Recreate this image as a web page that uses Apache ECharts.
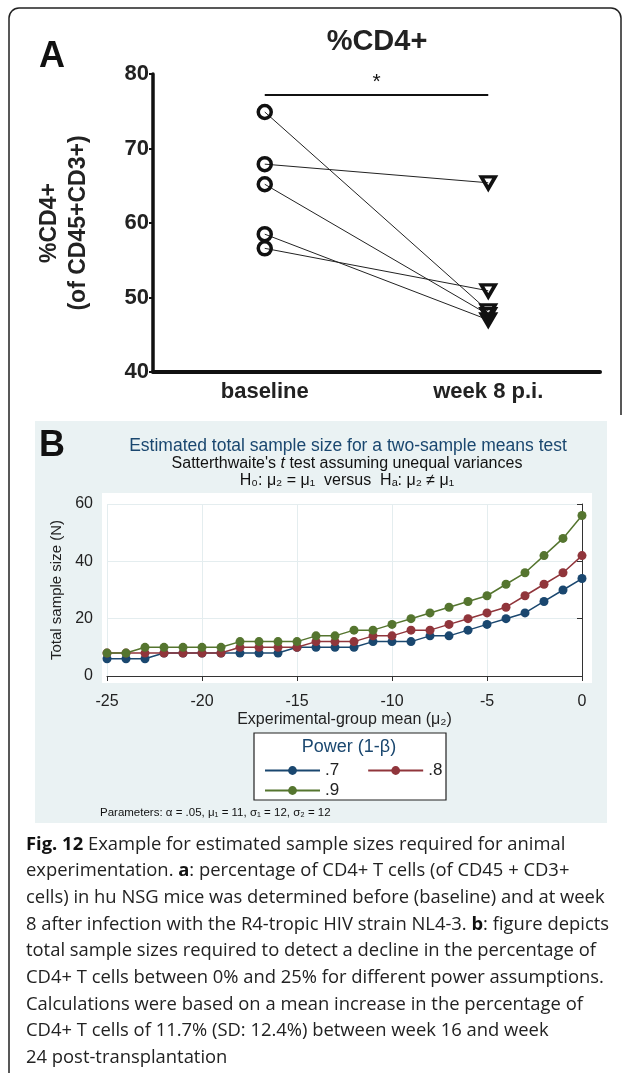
<!DOCTYPE html>
<html>
<head>
<meta charset="utf-8">
<script src="https://cdn.jsdelivr.net/npm/echarts@6/dist/echarts.min.js"></script>
<style>
html, body { margin: 0; padding: 0; background: #fff; }
#main { width: 627px; height: 1073px; }
</style>
</head>
<body>
<div id="main"></div>
<script>
// panel A: %CD4+ per mouse, baseline vs week 8
var groupsA = ['baseline', 'week 8 p.i.'];
var cd4Baseline = [74.9, 67.9, 65.2, 58.5, 56.6];
var cd4Week8 = [48.2, 65.4, 47.7, 47.0, 50.9];
var sigLevel = 77.2;

// panel B: total sample size vs experimental-group mean
var meanX = [-25, -24, -23, -22, -21, -20, -19, -18, -17, -16, -15, -14, -13, -12, -11, -10, -9, -8, -7, -6, -5, -4, -3, -2, -1, 0];
var n70 = [6, 6, 6, 8, 8, 8, 8, 8, 8, 8, 10, 10, 10, 10, 12, 12, 12, 14, 14, 16, 18, 20, 22, 26, 30, 34];
var n80 = [8, 8, 8, 8, 8, 8, 8, 10, 10, 10, 10, 12, 12, 12, 14, 14, 16, 16, 18, 20, 22, 24, 28, 32, 36, 42];
var n90 = [8, 8, 10, 10, 10, 10, 10, 12, 12, 12, 12, 14, 14, 16, 16, 18, 20, 22, 24, 26, 28, 32, 36, 42, 48, 56];
var powerLabels = ['.7', '.8', '.9'];
var powerColors = ['#1a476f', '#90353b', '#55752f'];

var chart = echarts.init(document.getElementById('main'));
var arial = '"Liberation Sans", Arial, sans-serif';

var seriesList = [];
for (var i = 0; i < cd4Baseline.length; i++) {
    seriesList.push({
        type: 'line',
        xAxisIndex: 0,
        yAxisIndex: 0,
        silent: true,
        z: 3,
        lineStyle: { color: '#222', width: 1 },
        itemStyle: { color: 'rgba(0,0,0,0)', borderColor: '#111', borderWidth: 3.5 },
        data: [
            { value: [groupsA[0], cd4Baseline[i]], symbol: 'circle', symbolSize: 13 },
            { value: [groupsA[1], cd4Week8[i]], symbol: 'triangle', symbolRotate: 180, symbolSize: [14, 12] }
        ],
        markLine: i === 0 ? {
            silent: true,
            symbol: 'none',
            lineStyle: { color: '#111', width: 2, type: 'solid' },
            label: { show: true, position: 'middle', formatter: '*', color: '#111', fontSize: 21, fontFamily: arial, distance: 2 },
            data: [[{ coord: [groupsA[0], sigLevel] }, { coord: [groupsA[1], sigLevel] }]]
        } : undefined
    });
}
var powerData = [n70, n80, n90];
for (var k = 0; k < powerData.length; k++) {
    seriesList.push({
        name: powerLabels[k],
        type: 'line',
        xAxisIndex: 1,
        yAxisIndex: 1,
        symbol: 'circle',
        symbolSize: 9,
        z: 3 + k,
        lineStyle: { color: powerColors[k], width: 1.5 },
        itemStyle: { color: powerColors[k] },
        data: meanX.map(function (x, j) { return [x, powerData[k][j]]; })
    });
}

var option = {
    animation: false,
    grid: [
        { left: 153, top: 74, right: 27, bottom: 701 },
        { left: 107, top: 504, right: 45, bottom: 397 }
    ],
    xAxis: [
        {
            gridIndex: 0, type: 'category', data: groupsA, boundaryGap: true,
            axisLine: { lineStyle: { color: '#111', width: 4 } },
            axisTick: { alignWithLabel: true, length: 5, lineStyle: { color: '#111', width: 2 } },
            axisLabel: { color: '#222', fontSize: 22, fontWeight: 'bold', fontFamily: arial, margin: 9 },
            splitLine: { show: false }
        },
        {
            gridIndex: 1, type: 'value', min: -25, max: 0, interval: 5, offset: 9,
            axisLine: { lineStyle: { color: '#333', width: 1 } },
            axisTick: { show: true, length: 5, lineStyle: { color: '#333' } },
            axisLabel: { color: '#222', fontSize: 16, fontFamily: arial, margin: 9 },
            splitLine: { show: true, lineStyle: { color: '#e4edef', width: 1 } },
            name: 'Experimental-group mean (\u03bc\u2082)', nameLocation: 'middle', nameGap: 27,
            nameTextStyle: { color: '#222', fontSize: 16, fontFamily: arial }
        }
    ],
    yAxis: [
        {
            gridIndex: 0, type: 'value', min: 40, max: 80, interval: 10,
            axisLine: { show: true, lineStyle: { color: '#111', width: 3.5 } },
            axisTick: { show: true, length: 4, lineStyle: { color: '#111', width: 2 } },
            axisLabel: { color: '#222', fontSize: 22, fontWeight: 'bold', fontFamily: arial, margin: 4 },
            splitLine: { show: false },
            name: '%CD4+\n(of CD45+CD3+)', nameLocation: 'middle', nameGap: 60,
            nameTextStyle: { color: '#222', fontSize: 23, fontWeight: 'bold', fontFamily: arial, lineHeight: 29 }
        },
        {
            gridIndex: 1, type: 'value', min: 0, max: 60, interval: 20, offset: 9,
            axisLine: { show: true, lineStyle: { color: '#333', width: 1 } },
            axisTick: { show: true, length: 5, lineStyle: { color: '#333' } },
            axisLabel: { color: '#222', fontSize: 16, fontFamily: arial, margin: 5 },
            splitLine: { show: true, lineStyle: { color: '#e4edef', width: 1 } },
            name: 'Total sample size (N)', nameLocation: 'middle', nameGap: 30,
            nameTextStyle: { color: '#222', fontSize: 15, fontFamily: arial }
        }
    ],
    legend: [
        {
            data: [powerLabels[0], powerLabels[1]], left: 259, top: 757, orient: 'horizontal',
            itemWidth: 55, itemHeight: 11, itemGap: 28,
            textStyle: { color: '#222', fontSize: 17, fontFamily: arial }
        },
        {
            data: [powerLabels[2]], left: 259, top: 777, orient: 'horizontal',
            itemWidth: 55, itemHeight: 11,
            textStyle: { color: '#222', fontSize: 17, fontFamily: arial }
        }
    ],
    series: seriesList,
    graphic: [
        // outer frame
        { type: 'rect', z: -20, silent: true, shape: { x: 9, y: 8, width: 612, height: 1200, r: [10, 10, 0, 0] }, style: { fill: '#fff', stroke: '#222', lineWidth: 1.5 } },
        { type: 'rect', z: -19, silent: true, shape: { x: 617, y: 415, width: 10, height: 700 }, style: { fill: '#fff' } },
        // panel B background
        { type: 'rect', z: -18, silent: true, shape: { x: 35, y: 421, width: 572, height: 402 }, style: { fill: '#eaf2f3' } },
        { type: 'rect', z: -17, silent: true, shape: { x: 102, y: 493, width: 490, height: 190 }, style: { fill: '#fff' } },
        // legend box
        { type: 'rect', z: -16, silent: true, shape: { x: 254, y: 733, width: 192, height: 67 }, style: { fill: '#fff', stroke: '#222', lineWidth: 1.2 } },
        { type: 'text', silent: true, style: { text: 'Power (1-\u03b2)', x: 349, y: 747, textAlign: 'center', textVerticalAlign: 'middle', align: 'center', verticalAlign: 'middle', fill: '#1a476f', font: '18px ' + arial } },
        // panel labels and titles
        { type: 'text', silent: true, style: { text: 'A', x: 39, y: 57, textVerticalAlign: 'middle', verticalAlign: 'middle', fill: '#111', font: 'bold 36px ' + arial } },
        { type: 'text', silent: true, style: { text: '%CD4+', x: 377, y: 42, textAlign: 'center', textVerticalAlign: 'middle', align: 'center', verticalAlign: 'middle', fill: '#222', font: 'bold 29px ' + arial } },
        { type: 'text', silent: true, style: { text: 'B', x: 39, y: 446, textVerticalAlign: 'middle', verticalAlign: 'middle', fill: '#111', font: 'bold 36px ' + arial } },
        { type: 'text', silent: true, style: { text: 'Estimated total sample size for a two-sample means test', x: 348, y: 446, textAlign: 'center', textVerticalAlign: 'middle', align: 'center', verticalAlign: 'middle', fill: '#1a476f', font: '17.5px ' + arial } },
        { type: 'text', silent: true, style: { text: 'Satterthwaite\'s {i|t} test assuming unequal variances', x: 347, y: 464, textAlign: 'center', textVerticalAlign: 'middle', align: 'center', verticalAlign: 'middle', fill: '#111', font: '16px ' + arial, rich: { i: { fontStyle: 'italic', fontSize: 16, fontFamily: arial, fill: '#111' } } } },
        { type: 'text', silent: true, style: { text: 'H\u2080: \u03bc\u2082 = \u03bc\u2081  versus  H\u2090: \u03bc\u2082 \u2260 \u03bc\u2081', x: 347, y: 481, textAlign: 'center', textVerticalAlign: 'middle', align: 'center', verticalAlign: 'middle', fill: '#111', font: '16px ' + arial } },
        { type: 'text', silent: true, style: { text: 'Parameters: \u03b1 = .05, \u03bc\u2081 = 11, \u03c3\u2081 = 12, \u03c3\u2082 = 12', x: 100, y: 813, textVerticalAlign: 'middle', verticalAlign: 'middle', fill: '#111', font: '11.5px ' + arial } },
        // figure caption
        {
            type: 'text', silent: true,
            style: {
                x: 26, y: 831,
                text: '{b|Fig. 12} Example for estimated sample sizes required for animal\n' +
                    'experimentation. {b|a}: percentage of CD4+ T cells (of CD45 + CD3+\n' +
                    'cells) in hu NSG mice was determined before (baseline) and at week\n' +
                    '8 after infection with the R4-tropic HIV strain NL4-3. {b|b}: figure depicts\n' +
                    'total sample sizes required to detect a decline in the percentage of\n' +
                    'CD4+ T cells between 0% and 25% for different power assumptions.\n' +
                    'Calculations were based on a mean increase in the percentage of\n' +
                    'CD4+ T cells of 11.7% (SD: 12.4%) between week 16 and week\n' +
                    '24 post-transplantation',
                fill: '#222',
                font: '18.4px "Open Sans", sans-serif',
                lineHeight: 26.7,
                rich: {
                    b: { fontWeight: 'bold', fontSize: 18.4, fontFamily: '"Open Sans", sans-serif', fill: '#111', lineHeight: 26.7 }
                }
            }
        }
    ]
};
chart.setOption(option);
</script>
</body>
</html>
